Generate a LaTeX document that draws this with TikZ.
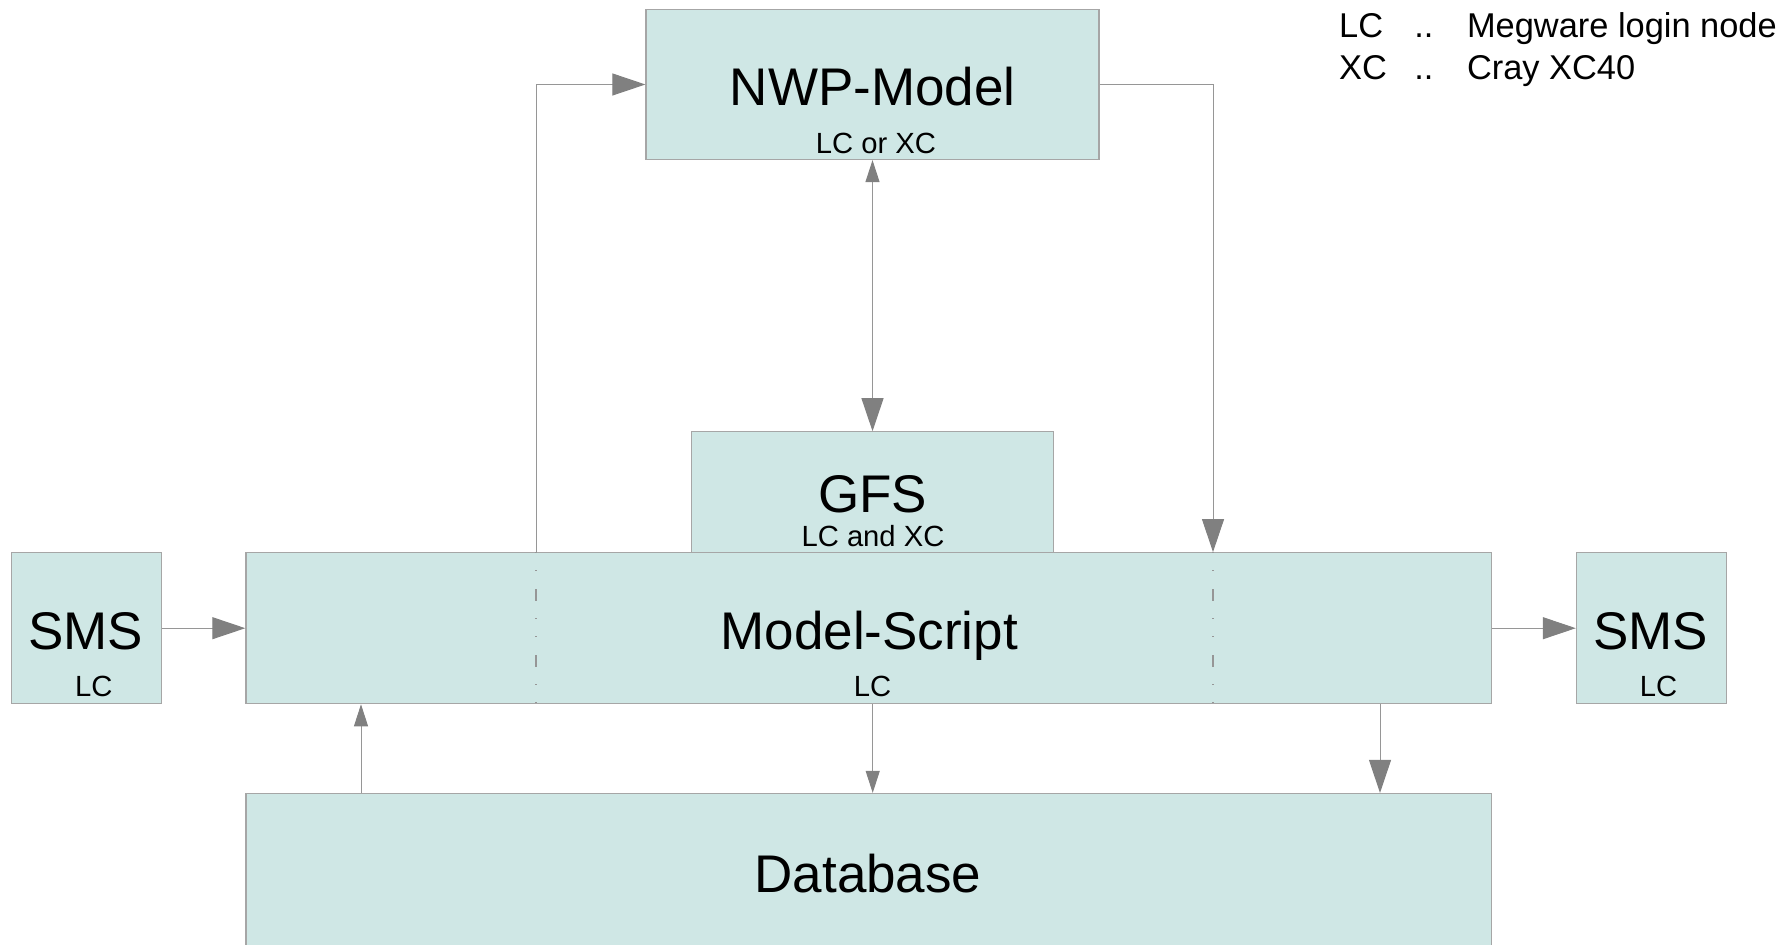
\documentclass[tikz,border=0pt]{standalone}
\usepackage{fontspec}
\setmainfont{Liberation Sans}
\usetikzlibrary{arrows.meta}

\definecolor{boxfill}{RGB}{207,231,229}
\definecolor{boxline}{RGB}{166,166,166}
\definecolor{wiregray}{RGB}{150,150,150}
\definecolor{tipgray}{RGB}{128,128,128}

\tikzset{
  block/.style={draw=boxline, fill=boxfill, line width=0.6pt, inner sep=0pt},
  wire/.style={draw=wiregray, line width=0.5pt},
  sepline/.style={draw=wiregray, line width=0.6pt, dash pattern=on 0.6pt off 8.4pt on 0.6pt off 8.9pt on 6pt off 8.5pt},
  bigtxt/.style={font=\fontsize{26.5}{30}\selectfont, text height=19pt, text depth=0pt, inner sep=0pt},
  smalltxt/.style={font=\fontsize{14.6}{17}\selectfont, text height=10.45pt, text depth=0pt, inner sep=0pt},
  legendtxt/.style={font=\fontsize{17.2}{20}\selectfont, anchor=base west, inner sep=0pt},
  smalltip/.tip={Triangle[length=11pt, width=7pt, color=tipgray]}
}

\begin{document}
\begin{tikzpicture}[x=0.5pt, y=-0.5pt, >={Triangle[length=16.5pt, width=11pt, color=tipgray]}]
  \useasboundingbox (0,0) rectangle (1791,945);
  \clip (0,0) rectangle (1791,945);

  % boxes
  \node[block, minimum width=226.5pt, minimum height=75pt] (nwp) at (872.5,84.5) {};
  \node[block, minimum width=181pt, minimum height=60.5pt] (gfs) at (872.5,492.3) {};
  \node[block, minimum width=622.9pt, minimum height=75.5pt] (script) at (868.8,628.2) {};
  \node[block, minimum width=75.2pt, minimum height=75.5pt] (smsin) at (86.6,628.2) {};
  \node[block, minimum width=75.2pt, minimum height=75.5pt] (smsout) at (1651.6,628.2) {};
  \node[block, minimum width=622.9pt, minimum height=85.75pt] (db) at (868.8,879.25) {};

  % texts
  \node[bigtxt] (nwpname) at (872.6,86.8) {NWP-Model};
  \node[smalltxt] (nwphost) at (876,142.8) {LC or XC};
  \node[bigtxt] (gfsname) at (872.6,493.4) {GFS};
  \node[smalltxt] (gfshost) at (873,535.7) {LC and XC};
  \node[bigtxt] (scriptname) at (869.2,630.5) {Model-Script};
  \node[smalltxt] (scripthost) at (872.6,686.5) {LC};
  \node[bigtxt] (smsinname) at (85.7,630.5) {SMS};
  \node[smalltxt] (smsinhost) at (93.7,686.5) {LC};
  \node[bigtxt] (smsoutname) at (1650.5,630.5) {SMS};
  \node[smalltxt] (smsouthost) at (1658.5,686.5) {LC};
  \node[bigtxt] (dbname) at (868,873.8) {Database};

  % legend
  \node[legendtxt] (lcabbr) at (1338.7,37.4) {LC};
  \node[legendtxt] (lcdots) at (1414,37.4) {..};
  \node[legendtxt] (lcname) at (1466.6,37.4) {Megware login node};
  \node[legendtxt] (xcabbr) at (1338.7,79.7) {XC};
  \node[legendtxt] (xcdots) at (1414,79.7) {..};
  \node[legendtxt] (xcname) at (1466.6,79.7) {Cray XC40};

  % connectors
  \coordinate (leftdrop) at (536,0);
  \coordinate (rightdrop) at (1213,0);
  \coordinate (dbup) at (361,0);
  \coordinate (dbmid) at (872.7,0);
  \coordinate (dbdown) at (1380,0);

  \draw[sepline] (leftdrop |- script.north) -- (leftdrop |- script.south);
  \draw[sepline] (rightdrop |- script.north) -- (rightdrop |- script.south);

  \draw[wire, ->] (leftdrop |- script.north) |- (nwp.west);
  \draw[wire, ->] (nwp.east) -| (rightdrop |- script.north);
  \draw[wire, {smalltip}->] (nwp) -- (gfs);
  \draw[wire, ->] (smsin) -- (script);
  \draw[wire, ->] (script) -- (smsout);
  \draw[wire, -{smalltip}] (dbup |- db.north) -- (dbup |- script.south);
  \draw[wire, -{smalltip}] (dbmid |- script.south) -- (dbmid |- db.north);
  \draw[wire, ->] (dbdown |- script.south) -- (dbdown |- db.north);
\end{tikzpicture}
\end{document}
